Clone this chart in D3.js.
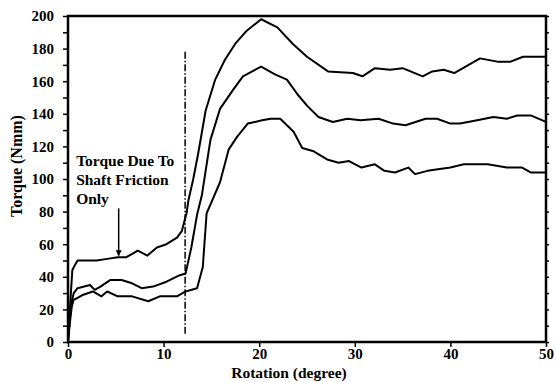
<!DOCTYPE html>
<html>
<head>
<meta charset="utf-8">
<script src="https://cdn.jsdelivr.net/npm/d3@7"></script>
<style>
	body { margin: 0; background: #fff; }
	svg { display: block; }
	.axis text { font-family: "Liberation Serif", serif; font-weight: bold; font-size: 15px; fill: #000; }
	.axis line { stroke: #000; stroke-width: 1.5; }
</style>
</head>
<body>
<svg id="chart" width="556" height="382"></svg>
<script>
// upper curve
var topRot = [0, 0.15, 0.3, 0.45, 0.7, 1, 2, 3, 4.1, 5.2, 6.1, 7.3, 8.3, 9.3, 10.3, 11.4, 11.9, 12.4, 12.6, 13.1, 13.6, 14.4, 15.4, 16.4, 17.5, 18.7, 20.2, 21.9, 23.5, 25, 27.2, 29.8, 30.8, 32.1, 33.7, 35, 37.1, 38.1, 39.3, 40.4, 43.1, 44.9, 46.3, 47.6, 49.1, 50];
var topTorque = [0, 15, 30, 44, 47, 50, 50, 50, 51, 52, 52, 56, 53, 58, 60, 64, 68, 79, 87, 100, 115, 142, 161, 173, 183, 191, 198, 193, 183, 175, 166, 165, 163, 168, 167, 168, 163, 166, 167, 165, 174, 172, 172, 175, 175, 175];

// middle curve
var midRot = [0, 0.2, 0.4, 0.6, 1, 2.3, 2.8, 3.4, 4.4, 5.6, 6.7, 7.7, 8.9, 10.3, 11.7, 12.3, 12.9, 13.5, 14.0, 14.9, 15.9, 17.3, 18.3, 20.2, 21.7, 22.9, 24, 25, 26.2, 27.7, 29.2, 30.6, 32.5, 34, 35.3, 37.4, 38.6, 40, 41, 42.8, 44.5, 45.9, 47, 48.4, 50];
var midTorque = [0, 15, 25, 30, 33, 35, 32, 34, 38, 38, 36, 33, 34, 37, 41, 42, 58, 78, 90, 124, 143, 155, 163, 169, 164, 161, 152, 145, 138, 135, 137, 136, 137, 134, 133, 137, 137, 134, 134, 136, 138, 137, 139, 139, 135];

// lower curve
var lowRot = [0, 0.2, 0.4, 0.6, 1, 1.6, 2.6, 3.5, 4.1, 5.2, 6.7, 8.4, 9.6, 11.4, 12.3, 13.5, 14.1, 14.5, 15.1, 15.9, 16.8, 17.7, 18.8, 20.3, 21.2, 22.2, 23.6, 24.5, 25.7, 27.1, 28.3, 29.4, 30.7, 32.1, 33.1, 34.2, 35.6, 36.3, 37.6, 38.7, 40, 41.4, 42.6, 43.9, 45.9, 47.5, 48.4, 50];
var lowTorque = [0, 12, 22, 26, 27, 29, 31, 28, 31, 28, 28, 25, 28, 28, 31, 33, 46, 79, 87, 98, 118, 126, 134, 136, 137, 137, 129, 119, 117, 112, 110, 111, 107, 109, 105, 104, 107, 103, 105, 106, 107, 109, 109, 109, 107, 107, 104, 104];

var xTicks = [0, 10, 20, 30, 40, 50];
var yTicks = d3.range(0, 201, 10);
var noteLines = ["Torque Due To", "Shaft Friction", "Only"];

var svg = d3.select("#chart"),
	margin = {top: 16, right: 10, bottom: 40, left: 68},
	width = +svg.attr("width") - margin.left - margin.right,
	height = +svg.attr("height") - margin.top - margin.bottom,
	g = svg.append("g").attr("transform", "translate(" + margin.left + "," + margin.top + ")");

var x = d3.scaleLinear().domain([0, 50]).range([0, width]);
var y = d3.scaleLinear().domain([0, 200]).range([height, 0]);

// axes
g.append("g")
		.attr("class", "axis")
		.attr("transform", "translate(0," + height + ")")
		.call(d3.axisBottom(x).tickValues(xTicks).tickSize(5).tickPadding(1).tickFormat(d3.format("d")))
	.select(".domain").remove();

g.append("g")
		.attr("class", "axis")
		.call(d3.axisLeft(y).tickValues(yTicks).tickSize(5).tickPadding(9)
			.tickFormat(function(d) { return d % 20 === 0 ? d : ""; }))
	.select(".domain").remove();

g.append("g")
		.attr("class", "axis")
		.attr("transform", "translate(" + width + ",0)")
		.call(d3.axisRight(y).tickValues(yTicks).tickSize(3).tickFormat(""))
	.select(".domain").remove();

// frame
g.append("rect")
	.attr("width", width)
	.attr("height", height)
	.attr("fill", "none")
	.attr("stroke", "#000")
	.attr("stroke-width", 2.5);

var line = d3.line()
	.x(function(d) { return x(d[0]); })
	.y(function(d) { return y(d[1]); });

[[topRot, topTorque], [midRot, midTorque], [lowRot, lowTorque]].forEach(function(s) {
	g.append("path")
		.datum(d3.zip(s[0], s[1]))
		.attr("fill", "none")
		.attr("stroke", "#000")
		.attr("stroke-width", 2)
		.attr("stroke-linejoin", "round")
		.attr("d", line);
});

// dash-dot marker
g.append("line")
	.attr("x1", x(12.25)).attr("x2", x(12.25))
	.attr("y1", y(178)).attr("y2", y(4))
	.attr("stroke", "#000")
	.attr("stroke-width", 1.5)
	.attr("stroke-dasharray", "7,2,1.5,2");

// arrow
svg.append("defs").append("marker")
	.attr("id", "head")
	.attr("viewBox", "0 0 10 10")
	.attr("refX", 9).attr("refY", 5)
	.attr("markerWidth", 4).attr("markerHeight", 5)
	.attr("orient", "auto")
	.append("path").attr("d", "M0,0L10,5L0,10z").attr("fill", "#000");

g.append("line")
	.attr("x1", x(5.3)).attr("x2", x(5.3))
	.attr("y1", y(82)).attr("y2", y(53))
	.attr("stroke", "#000")
	.attr("stroke-width", 1.5)
	.attr("marker-end", "url(#head)");

// note
g.append("text")
	.attr("x", x(0.85))
	.attr("y", y(108))
	.attr("font-family", "Liberation Serif, serif")
	.attr("font-weight", "bold")
	.attr("font-size", 15.5)
	.selectAll("tspan")
	.data(noteLines)
	.enter().append("tspan")
		.attr("x", x(0.85))
		.attr("dy", function(d, i) { return i ? 19 : 0; })
		.text(function(d) { return d; });

// axis titles
svg.append("text")
	.attr("x", 289)
	.attr("y", 378)
	.attr("text-anchor", "middle")
	.attr("font-family", "Liberation Serif, serif")
	.attr("font-weight", "bold")
	.attr("font-size", 15.5)
	.text("Rotation (degree)");

svg.append("text")
	.attr("transform", "translate(22,166) rotate(-90)")
	.attr("text-anchor", "middle")
	.attr("font-family", "Liberation Serif, serif")
	.attr("font-weight", "bold")
	.attr("font-size", 16)
	.text("Torque (Nmm)");
</script>
</body>
</html>
